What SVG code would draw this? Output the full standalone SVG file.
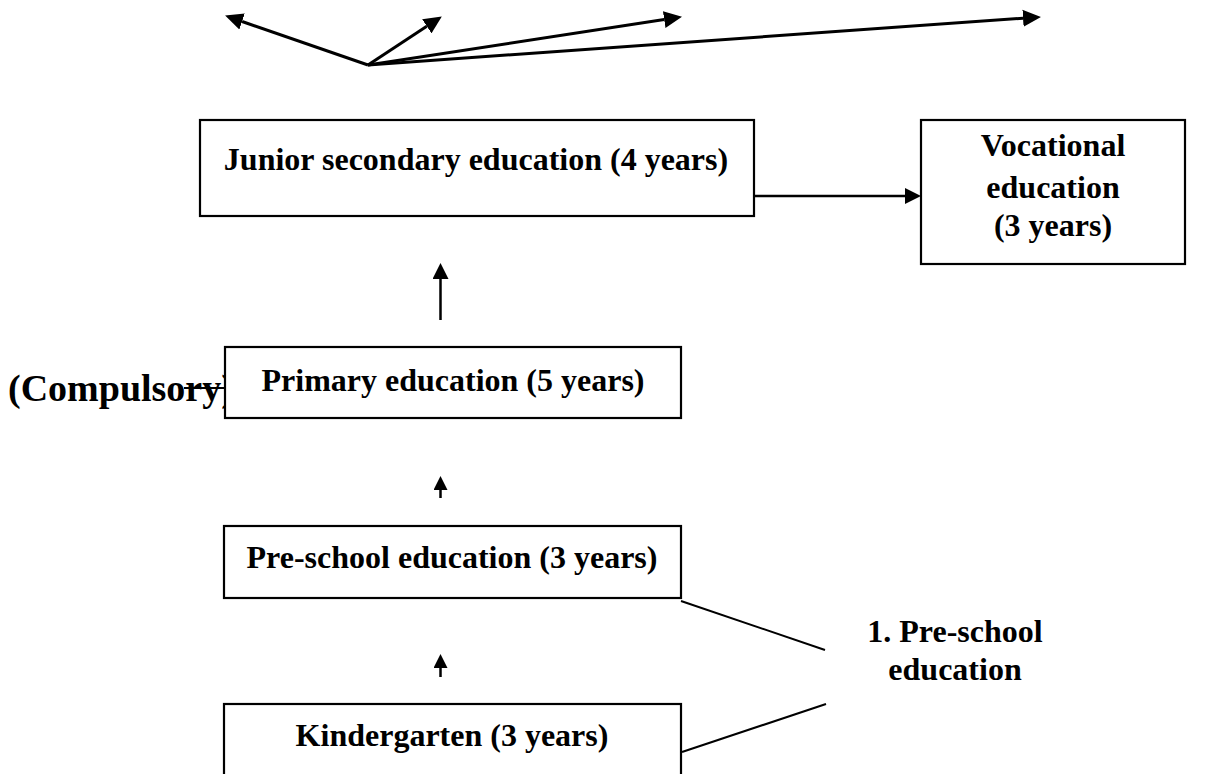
<svg xmlns="http://www.w3.org/2000/svg" width="1207" height="774" viewBox="0 0 1207 774">
  <style>
    .box { fill: #ffffff; stroke: #000000; stroke-width: 2.2; }
    .lbl { font-family: "Liberation Serif", "Times New Roman", serif; font-weight: bold; font-size: 32px; fill: #000000; text-anchor: middle; }
    .big { font-family: "Liberation Serif", "Times New Roman", serif; font-weight: bold; font-size: 38px; fill: #000000; }
    .arr { fill: none; stroke: #000000; stroke-width: 3; }
    .arr2 { fill: none; stroke: #000000; stroke-width: 2.5; }
    .ln { fill: none; stroke: #000000; stroke-width: 2; }
  </style>
  <defs>
    <marker id="head" markerUnits="userSpaceOnUse" markerWidth="18" markerHeight="18" refX="0" refY="8" orient="auto" viewBox="0 0 17 16">
      <path d="M0,0 L17,8 L0,16 z" fill="#000000"/>
    </marker>
    <marker id="headM" markerUnits="userSpaceOnUse" markerWidth="16" markerHeight="16" refX="0" refY="7.5" orient="auto" viewBox="0 0 15 15">
      <path d="M0,0 L15,7.5 L0,15 z" fill="#000000"/>
    </marker>
    <marker id="headS" markerUnits="userSpaceOnUse" markerWidth="14" markerHeight="14" refX="0" refY="6.5" orient="auto" viewBox="0 0 13 13">
      <path d="M0,0 L13,6.5 L0,13 z" fill="#000000"/>
    </marker>
  </defs>

  <g id="connectors">
    <line class="arr" x1="368" y1="65" x2="242.1" y2="21.5" marker-end="url(#head)"/>
    <line class="arr" x1="368" y1="65" x2="426.8" y2="26.3" marker-end="url(#head)"/>
    <line class="arr" x1="368" y1="65" x2="664.2" y2="19.6" marker-end="url(#head)"/>
    <line class="arr" x1="368" y1="65" x2="1023" y2="18.2" marker-end="url(#head)"/>
    <line class="arr2" x1="754" y1="196" x2="905" y2="196" marker-end="url(#headM)"/>
    <line class="arr2" x1="440.5" y1="320" x2="440.5" y2="279" marker-end="url(#headM)"/>
    <line class="arr2" x1="440.5" y1="498" x2="440.5" y2="490" marker-end="url(#headS)"/>
    <line class="arr2" x1="440.5" y1="677" x2="440.5" y2="668" marker-end="url(#headS)"/>
    <line class="ln" x1="681" y1="601" x2="825" y2="650"/>
    <line class="ln" x1="682" y1="752" x2="826" y2="704"/>
  </g>

  <g id="compulsory">
    <text class="big" x="8" y="401">(Compulsory)</text>
    <line class="ln" x1="184" y1="388" x2="225" y2="388"/>
  </g>

  <g id="junior">
    <rect class="box" x="200" y="120" width="554" height="96"/>
    <text class="lbl" x="476" y="170">Junior secondary education (4 years)</text>
  </g>

  <g id="vocational">
    <rect class="box" x="921" y="120" width="264" height="144"/>
    <text class="lbl" x="1053" y="156">Vocational</text>
    <text class="lbl" x="1053" y="198">education</text>
    <text class="lbl" x="1053" y="236">(3 years)</text>
  </g>

  <g id="primary">
    <rect class="box" x="225" y="347" width="456" height="71"/>
    <text class="lbl" x="453" y="391">Primary education (5 years)</text>
  </g>

  <g id="preschool">
    <rect class="box" x="224" y="526" width="457" height="72"/>
    <text class="lbl" x="452" y="568">Pre-school education (3 years)</text>
  </g>

  <g id="kindergarten">
    <rect class="box" x="224" y="704" width="457" height="90"/>
    <text class="lbl" x="452" y="746">Kindergarten (3 years)</text>
  </g>

  <g id="preschool-label">
    <text class="lbl" x="955" y="642">1. Pre-school</text>
    <text class="lbl" x="955" y="680">education</text>
  </g>
</svg>
